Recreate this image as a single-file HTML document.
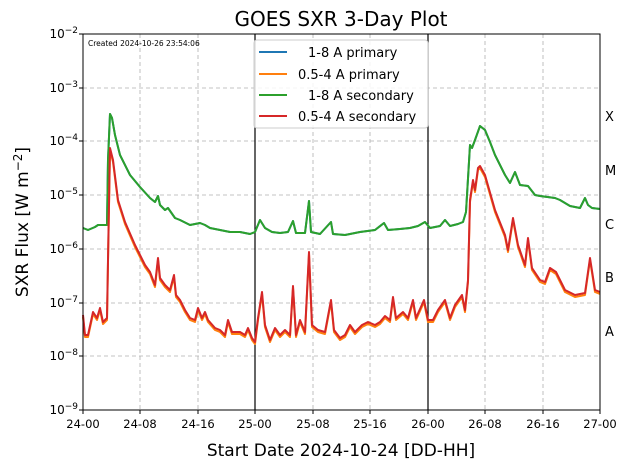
<!DOCTYPE html>
<html><head><meta charset="utf-8"><style>
body{margin:0;background:#fff;width:630px;height:469px;overflow:hidden}
svg{font-family:"DejaVu Sans","Liberation Sans",sans-serif}
</style></head><body>
<svg width="630" height="469" viewBox="0 0 630 469" xmlns="http://www.w3.org/2000/svg">
<text x="341" y="26" font-size="20" text-anchor="middle">GOES SXR 3-Day Plot</text>
<g stroke="#b0b0b0" stroke-width="0.8" stroke-dasharray="4,3">
<line x1="83" y1="88" x2="600" y2="88"/><line x1="83" y1="141" x2="600" y2="141"/><line x1="83" y1="195" x2="600" y2="195"/><line x1="83" y1="249" x2="600" y2="249"/><line x1="83" y1="303" x2="600" y2="303"/><line x1="83" y1="356" x2="600" y2="356"/>
<line x1="140" y1="34" x2="140" y2="410"/><line x1="198" y1="34" x2="198" y2="410"/><line x1="313" y1="34" x2="313" y2="410"/><line x1="370" y1="34" x2="370" y2="410"/><line x1="485" y1="34" x2="485" y2="410"/><line x1="543" y1="34" x2="543" y2="410"/>
</g>
<line x1="255" y1="34" x2="255" y2="410" stroke="#000" stroke-width="1.2"/>
<line x1="428" y1="34" x2="428" y2="410" stroke="#000" stroke-width="1.2"/>
<g fill="none" stroke-width="2" stroke-linejoin="round">
<polyline stroke="#1f77b4" points="83,228 88,230 95,227 98,225 107,225 108,160 110,114 112,118 115,135 120,155 130,175 140,187 150,198 155,202 158,196 160,205 165,210 168,208 175,218 180,220 190,225 200,223 205,225 210,228 220,230 230,232 240,232 250,234 255,232 260,220 265,228 272,232 280,233 288,232 293,221 296,233 305,233 309,201 311,232 320,234 331,222 333,234 345,235 360,232 375,230 384,223 388,230 400,229 410,228 418,226 425,222 430,228 440,226 445,220 450,226 458,224 463,222 466,212 470,145 472,148 475,140 480,126 485,130 490,142 495,155 500,165 505,175 510,183 515,172 520,185 528,186 535,195 540,196 555,198 560,200 570,206 580,208 585,198 588,205 592,208 600,209"/>
<polyline stroke="#2ca02c" points="83,228 88,230 95,227 98,225 107,225 108,160 110,114 112,118 115,135 120,155 130,175 140,187 150,198 155,202 158,196 160,205 165,210 168,208 175,218 180,220 190,225 200,223 205,225 210,228 220,230 230,232 240,232 250,234 255,232 260,220 265,228 272,232 280,233 288,232 293,221 296,233 305,233 309,201 311,232 320,234 331,222 333,234 345,235 360,232 375,230 384,223 388,230 400,229 410,228 418,226 425,222 430,228 440,226 445,220 450,226 458,224 463,222 466,212 470,145 472,148 475,140 480,126 485,130 490,142 495,155 500,165 505,175 510,183 515,172 520,185 528,186 535,195 540,196 555,198 560,200 570,206 580,208 585,198 588,205 592,208 600,209"/>
<polyline stroke="#ff7f0e" transform="translate(0,2)" points="83,315 85,335 88,335 93,312 97,318 100,308 103,322 107,318 108,260 110,148 113,160 118,200 125,222 135,245 145,265 150,272 155,285 158,258 160,278 165,285 170,290 174,275 176,295 180,300 185,310 190,318 195,320 198,308 202,318 205,312 208,320 215,328 220,330 225,335 228,320 232,332 240,332 245,335 248,328 252,338 255,342 258,318 262,292 265,325 270,340 275,328 280,335 285,330 290,335 293,286 296,335 300,320 305,332 309,252 312,325 318,330 325,332 331,300 334,330 340,338 345,335 350,325 355,332 362,325 368,322 375,325 380,322 385,316 390,320 393,297 396,318 403,312 408,318 413,300 416,318 424,300 428,320 433,320 438,310 445,300 450,318 455,305 462,295 465,310 468,280 470,200 473,180 475,190 478,168 480,166 485,175 495,210 505,235 508,250 513,218 518,245 525,265 528,238 532,268 540,280 545,282 550,268 556,272 565,290 575,295 585,293 590,258 595,290 600,292"/>
<polyline stroke="#d62728" points="83,315 85,335 88,335 93,312 97,318 100,308 103,322 107,318 108,260 110,148 113,160 118,200 125,222 135,245 145,265 150,272 155,285 158,258 160,278 165,285 170,290 174,275 176,295 180,300 185,310 190,318 195,320 198,308 202,318 205,312 208,320 215,328 220,330 225,335 228,320 232,332 240,332 245,335 248,328 252,338 255,342 258,318 262,292 265,325 270,340 275,328 280,335 285,330 290,335 293,286 296,335 300,320 305,332 309,252 312,325 318,330 325,332 331,300 334,330 340,338 345,335 350,325 355,332 362,325 368,322 375,325 380,322 385,316 390,320 393,297 396,318 403,312 408,318 413,300 416,318 424,300 428,320 433,320 438,310 445,300 450,318 455,305 462,295 465,310 468,280 470,200 473,180 475,190 478,168 480,166 485,175 495,210 505,235 508,250 513,218 518,245 525,265 528,238 532,268 540,280 545,282 550,268 556,272 565,290 575,295 585,293 590,258 595,290 600,292"/>
</g>
<rect x="83" y="34" width="517" height="376" fill="none" stroke="#000" stroke-width="1"/>
<text x="88" y="46" font-size="7.5">Created 2024-10-26 23:54:06</text>
<rect x="254" y="40" width="174" height="88" rx="3" fill="#fff" fill-opacity="0.85" stroke="#ccc"/>
<g stroke-width="2"><line x1="259" y1="52" x2="287" y2="52" stroke="#1f77b4"/><line x1="259" y1="74" x2="287" y2="74" stroke="#ff7f0e"/><line x1="259" y1="95" x2="287" y2="95" stroke="#2ca02c"/><line x1="259" y1="116" x2="287" y2="116" stroke="#d62728"/></g>
<g font-size="13"><text x="308" y="57">1-8 A primary</text><text x="298" y="79">0.5-4 A primary</text><text x="308" y="100">1-8 A secondary</text><text x="298" y="121">0.5-4 A secondary</text></g>
<g font-size="12" text-anchor="end">
<text x="78" y="38">10<tspan dy="-5" font-size="9">−2</tspan></text>
<text x="78" y="92">10<tspan dy="-5" font-size="9">−3</tspan></text>
<text x="78" y="145">10<tspan dy="-5" font-size="9">−4</tspan></text>
<text x="78" y="199">10<tspan dy="-5" font-size="9">−5</tspan></text>
<text x="78" y="253">10<tspan dy="-5" font-size="9">−6</tspan></text>
<text x="78" y="307">10<tspan dy="-5" font-size="9">−7</tspan></text>
<text x="78" y="360">10<tspan dy="-5" font-size="9">−8</tspan></text>
<text x="78" y="414">10<tspan dy="-5" font-size="9">−9</tspan></text>
</g>
<g stroke="#000"><line x1="79" y1="34" x2="83" y2="34"/><line x1="79" y1="88" x2="83" y2="88"/><line x1="79" y1="141" x2="83" y2="141"/><line x1="79" y1="195" x2="83" y2="195"/><line x1="79" y1="249" x2="83" y2="249"/><line x1="79" y1="303" x2="83" y2="303"/><line x1="79" y1="356" x2="83" y2="356"/><line x1="79" y1="410" x2="83" y2="410"/>
<line x1="83" y1="410" x2="83" y2="414"/><line x1="140" y1="410" x2="140" y2="414"/><line x1="198" y1="410" x2="198" y2="414"/><line x1="255" y1="410" x2="255" y2="414"/><line x1="313" y1="410" x2="313" y2="414"/><line x1="370" y1="410" x2="370" y2="414"/><line x1="428" y1="410" x2="428" y2="414"/><line x1="485" y1="410" x2="485" y2="414"/><line x1="543" y1="410" x2="543" y2="414"/><line x1="600" y1="410" x2="600" y2="414"/></g>
<g font-size="11.5" text-anchor="middle">
<text x="83" y="428">24-00</text><text x="140" y="428">24-08</text><text x="198" y="428">24-16</text><text x="255" y="428">25-00</text><text x="313" y="428">25-08</text><text x="370" y="428">25-16</text><text x="428" y="428">26-00</text><text x="485" y="428">26-08</text><text x="543" y="428">26-16</text><text x="600" y="428">27-00</text>
</g>
<g font-size="13"><text x="605" y="121">X</text><text x="605" y="175">M</text><text x="605" y="229">C</text><text x="605" y="282">B</text><text x="605" y="336">A</text></g>
<text x="341" y="456" font-size="17" text-anchor="middle">Start Date 2024-10-24 [DD-HH]</text>
<text transform="translate(28,222) rotate(-90)" font-size="17" text-anchor="middle">SXR Flux [W m<tspan dy="-6" font-size="12">−2</tspan><tspan dy="6">]</tspan></text>
</svg>
</body></html>
